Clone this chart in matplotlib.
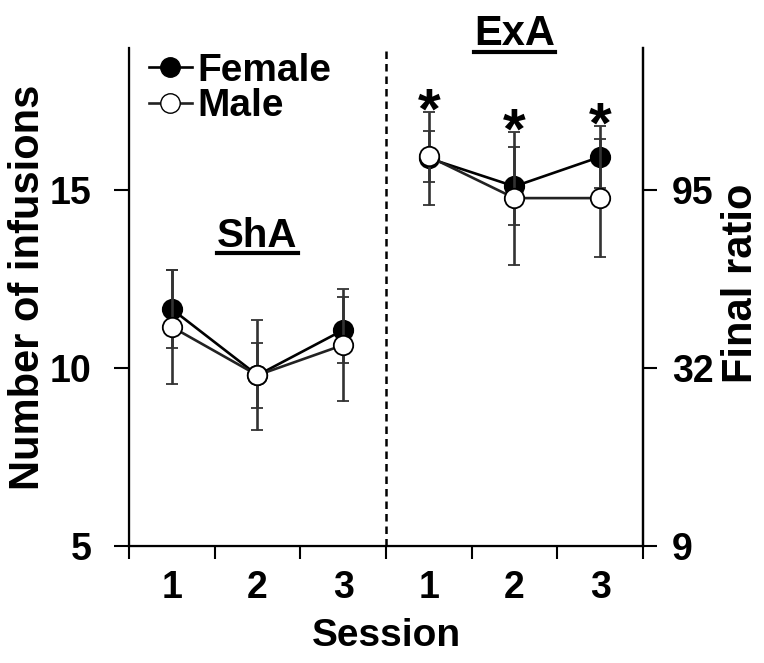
import numpy as np
import matplotlib
matplotlib.use("Agg")
import matplotlib.pyplot as plt
from matplotlib.lines import Line2D

plt.rcParams['font.family'] = ['Liberation Sans', 'DejaVu Sans']
plt.rcParams['font.weight'] = 'bold'
plt.rcParams['axes.labelweight'] = 'bold'

# sessions: 3 ShA then 3 ExA
session_labels = ['1', '2', '3', '1', '2', '3']
female_mean = [11.66, 9.8, 11.07, 15.9, 15.11, 15.94]
female_sem = [1.1, 0.92, 0.93, 1.3, 1.1, 0.87]
male_mean = [11.16, 9.8, 10.65, 15.95, 14.78, 14.78]
male_sem = [1.6, 1.55, 1.57, 0.72, 1.87, 1.65]
star_sessions = [3, 4, 5]   # indices with significant difference
left_ticks = [5, 10, 15]
right_ticklabels = ['9', '32', '95']

x = np.arange(1, 7)

fig = plt.figure(figsize=(7.64, 6.63), dpi=100)
ax = fig.add_axes([0.1688, 0.1765, 0.6728, 0.7511])

ecol = '#333333'
# ShA and ExA are separate segments
for seg in (slice(0, 3), slice(3, 6)):
    ax.errorbar(x[seg], female_mean[seg], yerr=female_sem[seg], color='black',
                ecolor=ecol, elinewidth=1.9, capsize=4.5, capthick=1.9,
                lw=1.9, marker='o', ms=14, mfc='black', mec='black',
                mew=1.3, zorder=3)
    ax.errorbar(x[seg], male_mean[seg], yerr=male_sem[seg], color='#222222',
                ecolor=ecol, elinewidth=1.9, capsize=4.5, capthick=1.9,
                lw=1.9, marker='o', ms=14, mfc='white', mec='black',
                mew=1.3, zorder=4)

# legend handles
ax.plot([], [], color='black', lw=1.9, marker='o', ms=14, mfc='black',
        mec='black', label='Female')
ax.plot([], [], color='#222222', lw=1.9, marker='o', ms=14, mfc='white',
        mec='black', label='Male')
ax.legend(loc='upper left', frameon=False, fontsize=28, handlelength=1.1,
          handletextpad=0.15, borderaxespad=0.0, labelspacing=-0.02,
          borderpad=0.0, bbox_to_anchor=(0.039, 0.99))

for i in star_sessions:
    top = max(female_mean[i] + female_sem[i], male_mean[i] + male_sem[i])
    ax.annotate('*', xy=(x[i], top), xytext=(0, -12),
                textcoords='offset points', ha='center', va='baseline',
                fontsize=42, fontweight='bold')

ax.axvline(3.5, color='black', lw=1.8, ls=(0, (3, 2)))

t1 = ax.text(2, 13.41, 'ShA', ha='center', va='baseline', fontsize=29)
t2 = ax.text(5, 19.08, 'ExA', ha='center', va='baseline', fontsize=30,
             clip_on=False)

ax.set_xlim(0.5, 6.5)
ax.set_ylim(5, 19)
ax.set_xticks(x)
ax.set_xticklabels(session_labels)
ax.set_xticks(np.arange(0.5, 7, 1), minor=True)
ax.tick_params(axis='x', which='major', length=0, labelsize=27, pad=17)
ax.tick_params(axis='x', which='minor', length=9, width=1.5, direction='out')
ax.set_yticks(left_ticks)
ax.tick_params(axis='y', length=11, width=1.5, labelsize=27, pad=16)
ax.set_xlabel('Session', fontsize=28)
ax.set_ylabel('Number of infusions', fontsize=30)
ax.xaxis.set_label_coords(0.5, -0.145)
ax.yaxis.set_label_coords(-0.158, 0.519)
ax.spines['top'].set_visible(False)
for s in ('left', 'right', 'bottom'):
    ax.spines[s].set_linewidth(1.6)

ax2 = ax.twinx()
ax2.set_ylim(5, 19)
ax2.set_yticks(left_ticks)
ax2.set_yticklabels(right_ticklabels)
ax2.tick_params(axis='y', length=10, width=1.5, labelsize=27, pad=11)
ax2.set_ylabel('Final ratio', fontsize=30)
ax2.yaxis.set_label_coords(1.152, 0.528)
ax2.spines['top'].set_visible(False)
ax2.spines['right'].set_linewidth(1.6)

# underline the phase labels, a few pixels under the baseline
fig.canvas.draw()
W, H = fig.bbox.width, fig.bbox.height
for t in (t1, t2):
    bb = t.get_window_extent()
    base = ax.transData.transform(t.get_position())[1] - 6.5
    fig.add_artist(Line2D([bb.x0 / W, bb.x1 / W], [base / H, base / H],
                          color='black', lw=3, transform=fig.transFigure))

fig.savefig('out.png', dpi=100)
